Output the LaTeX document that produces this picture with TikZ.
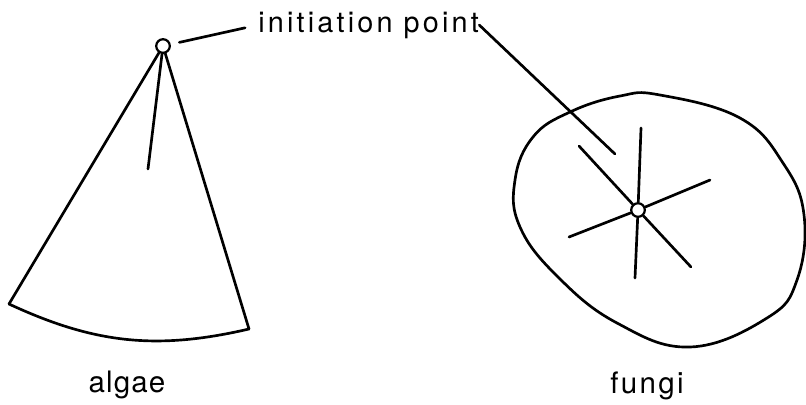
\documentclass[tikz,border=0pt]{standalone}
\usepackage{fontspec}
\setmainfont{TeX Gyre Heros}
\usetikzlibrary{positioning}
\tikzset{
  ln/.style={line width=1.9pt, line cap=round, line join=round},
  ipt/.style={circle, draw, line width=1.6pt, fill=white, minimum size=0.34cm, inner sep=0pt},
  lab/.style={inner sep=0pt, anchor=base},
}
\begin{document}
\begin{tikzpicture}[x=0.025cm, y=-0.025cm]
  \useasboundingbox (0,0) rectangle (806,404);
  % algae: fan-shaped thallus
  \coordinate (al) at (9,304);
  \coordinate (ar) at (249,329);
  \coordinate (ai) at (148,169);
  \draw[ln] (al) to[bend right=19] (ar);
  \node[ipt] (ia) at (163,46) {};
  \draw[ln] (ia) -- (al);
  \draw[ln] (ia) -- (ar);
  \draw[ln] (ia) -- (ai);
  % fungi: colony outline
  \draw[ln] plot[smooth cycle, tension=0.7] coordinates {
    (660,95) (740,118) (783,163) (804,215) (797,280) (767,318) (690,347)
    (617,323) (558,277) (520,227) (515,180) (533,137) (570,112) (620,96)};
  \node[ipt] (if) at (638,210) {};
  \foreach \p in {(641,128),(635,278),(579,146),(691,267),(569,237),(710,180)}
    \draw[ln] (if) -- \p;
  % labels
  \node[lab, anchor=base west, font=\fontsize{20.5}{24}\selectfont\addfontfeatures{LetterSpace=11}] (lbl) at (258,32) {initiation point};
  \coordinate (ft) at (615,154);
  \draw[ln, shorten <=0.22cm, shorten >=0.33cm] (ia) -- (lbl.west);
  \draw[ln] (lbl.east) -- (ft);
  \node[lab, font=\fontsize{21}{25}\selectfont\addfontfeatures{LetterSpace=4}] (alg) at (127,392) {algae};
  \node[lab, font=\fontsize{21}{25}\selectfont\addfontfeatures{LetterSpace=8}] (fun) at (647,393) {fungi};
\end{tikzpicture}
\end{document}
